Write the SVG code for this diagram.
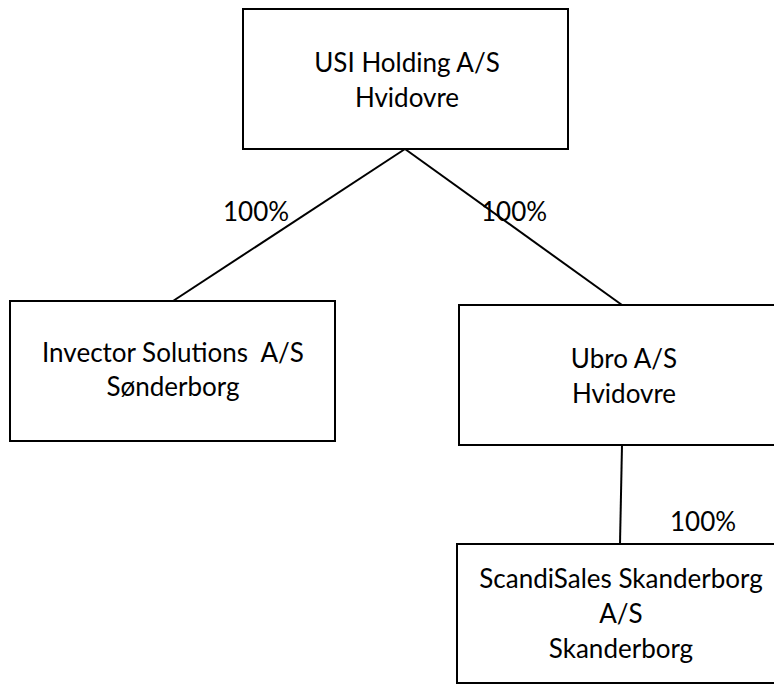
<svg xmlns="http://www.w3.org/2000/svg" width="774" height="684" viewBox="0 0 774 684">
<style>
.box{fill:#fff;stroke:#000;stroke-width:2}
.t{font-family:Lato,"Open Sans",sans-serif;font-size:26px;fill:#000;text-anchor:middle;white-space:pre}
.p{font-family:Lato,"Open Sans",sans-serif;font-size:26px;fill:#000}
.c{stroke:#000;stroke-width:2;fill:none}
</style>
<rect width="774" height="684" fill="#fff"/>
<g id="connectors">
<line class="c" x1="405" y1="149" x2="173" y2="301"/>
<line class="c" x1="405" y1="149" x2="622" y2="305"/>
<line class="c" x1="622" y1="445" x2="620" y2="544"/>
</g>
<g id="usi-holding">
<rect class="box" x="243" y="9" width="325" height="140"/>
<text class="t" x="407" y="72">USI Holding A/S</text>
<text class="t" x="407" y="107">Hvidovre</text>
</g>
<g id="invector">
<rect class="box" x="10" y="301" width="325" height="140"/>
<text class="t" x="173" y="362" xml:space="preserve">Invector Solutions  A/S</text>
<text class="t" x="173" y="396">Sønderborg</text>
</g>
<g id="ubro">
<rect class="box" x="459" y="305" width="340" height="140"/>
<text class="t" x="624" y="368">Ubro A/S</text>
<text class="t" x="624" y="403">Hvidovre</text>
</g>
<g id="scandisales">
<rect class="box" x="457" y="544" width="340" height="139"/>
<text class="t" x="621" y="588">ScandiSales Skanderborg</text>
<text class="t" x="621" y="623">A/S</text>
<text class="t" x="621" y="658">Skanderborg</text>
</g>
<g id="labels">
<text class="p" x="223" y="221">100%</text>
<text class="p" x="481" y="221">100%</text>
<text class="p" x="670" y="531">100%</text>
</g>
</svg>
